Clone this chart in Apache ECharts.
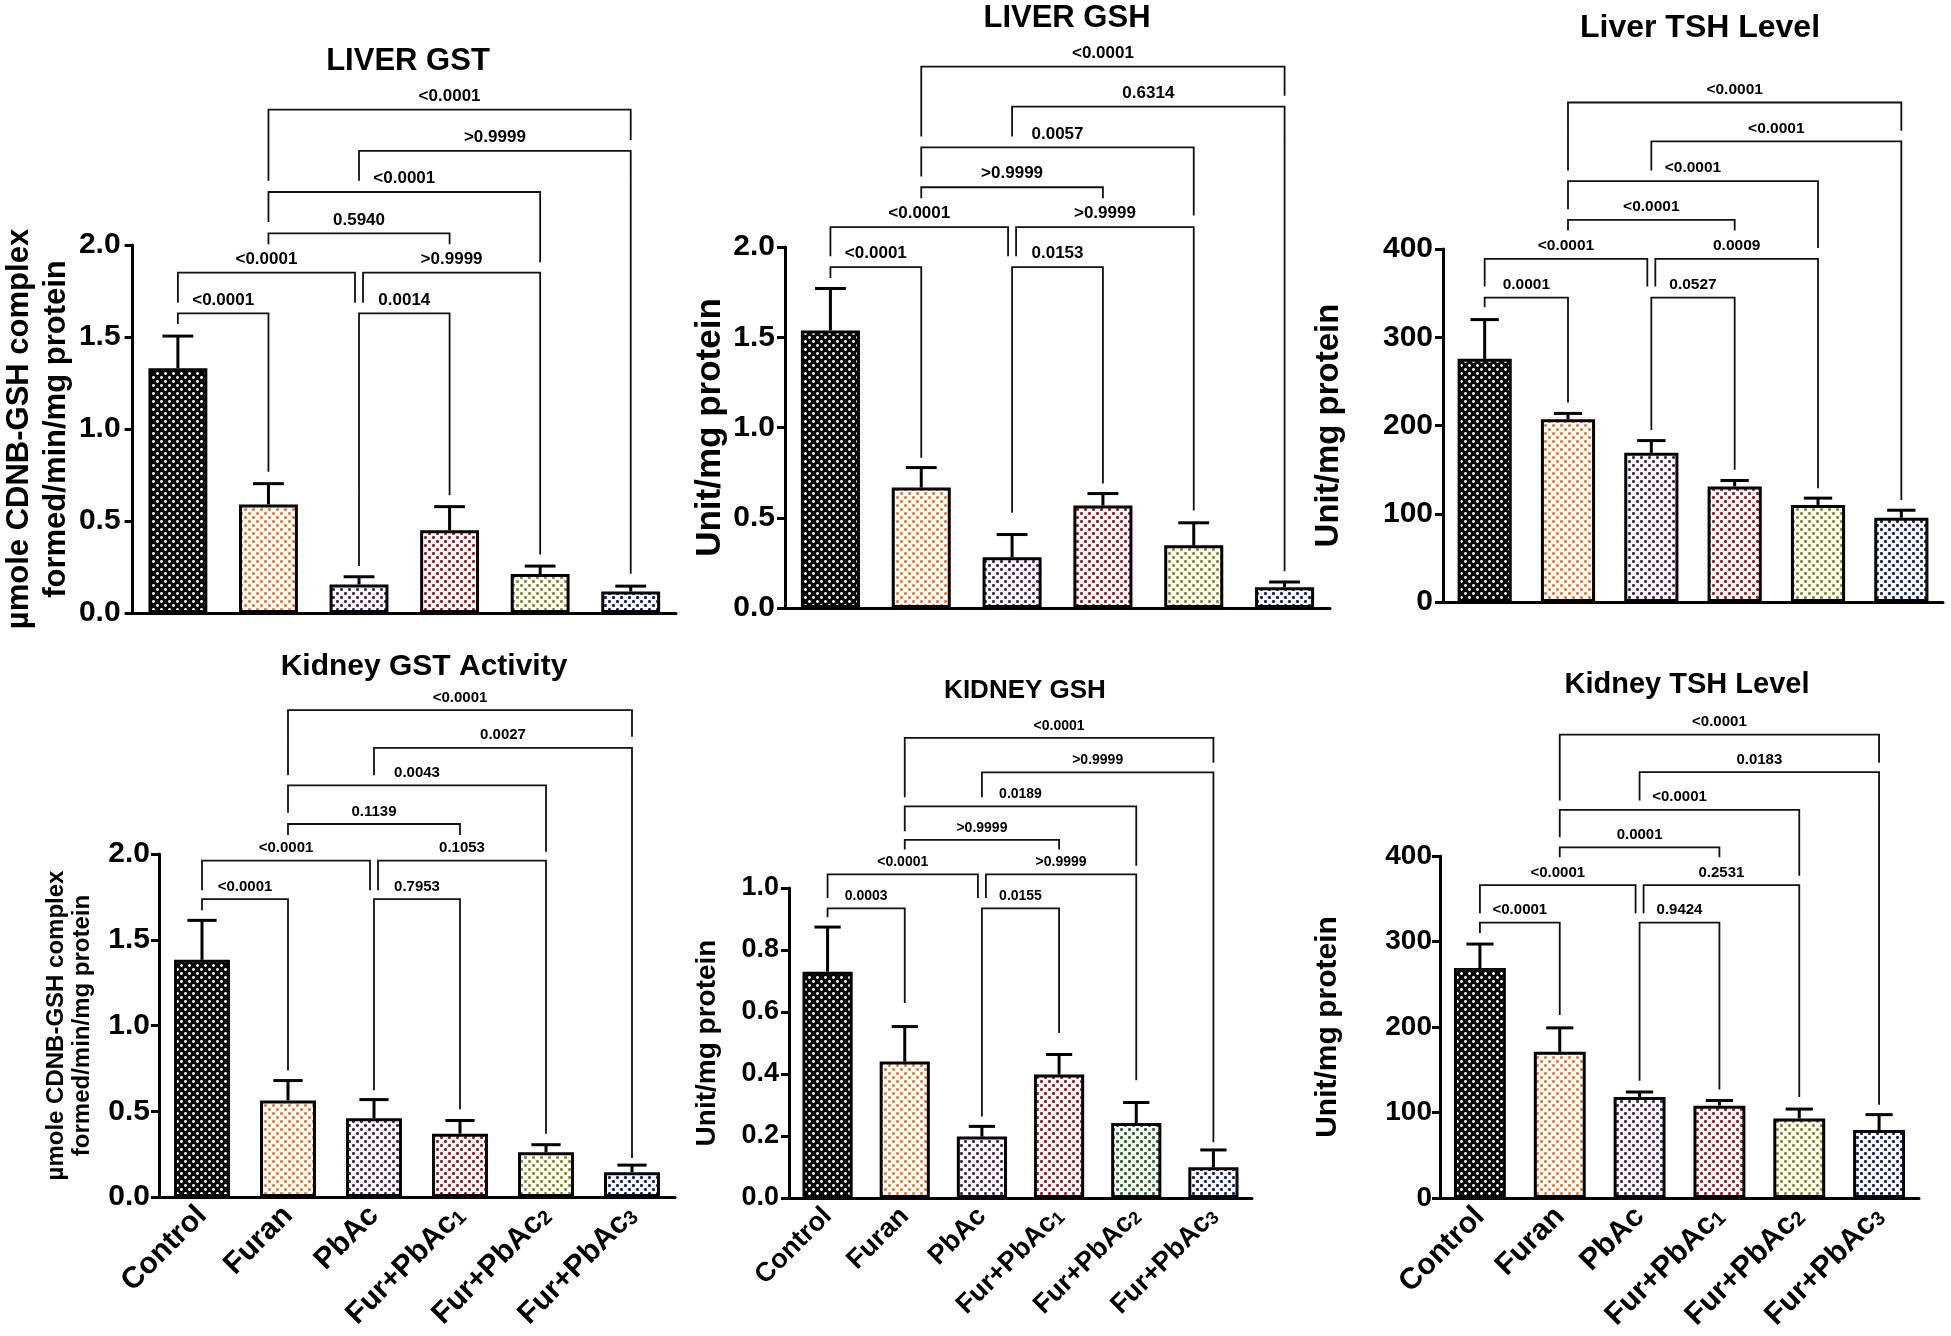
<!DOCTYPE html>
<html><head><meta charset="utf-8">
<script src="https://cdn.jsdelivr.net/npm/echarts@6/dist/echarts.min.js"></script>
<style>html,body{margin:0;padding:0;background:#fff}#c{width:1951px;height:1336px}</style>
</head><body><div id="c"></div>
<script>
const FF = '"Liberation Sans", Arial, Helvetica, sans-serif';
const categories = ['Control', 'Furan', 'PbAc', 'Fur+PbAc1', 'Fur+PbAc2', 'Fur+PbAc3'];

// Bar colours (dot colour of each pattern)
const barColors = ['#000000', '#EC7A2F', '#4B1F6E', '#A0181F', '#8C8C24', '#141E6E'];
const kidneyGshColors = ['#000000', '#EC7A2F', '#4B1F6E', '#A0181F', '#1F6A22', '#141E6E'];

// Tick labels
const gstTicks = [0, 0.5, 1.0, 1.5, 2.0];
const kidneyGshTicks = [0, 0.2, 0.4, 0.6, 0.8, 1.0];
const tshTicks = [0, 100, 200, 300, 400];

// Means and SEM
const liverGstMean = [1.33, 0.59, 0.155, 0.45, 0.212, 0.117];
const liverGstSem  = [0.175, 0.113, 0.042, 0.128, 0.043, 0.029];
const liverGshMean = [1.538, 0.667, 0.281, 0.568, 0.347, 0.115];
const liverGshSem  = [0.232, 0.111, 0.126, 0.066, 0.125, 0.029];
const liverTshMean = [275.5, 207, 169, 131, 110, 95.5];
const liverTshSem  = [44.5, 6.7, 13.9, 6.7, 7.7, 8.5];
const kidneyGstMean = [1.383, 0.563, 0.459, 0.369, 0.261, 0.145];
const kidneyGstSem  = [0.230, 0.116, 0.109, 0.077, 0.044, 0.041];
const kidneyGshMean = [0.730, 0.440, 0.198, 0.398, 0.242, 0.099];
const kidneyGshSem  = [0.144, 0.113, 0.033, 0.065, 0.066, 0.056];
const kidneyTshMean = [269, 171, 118, 108, 93, 79.5];
const kidneyTshSem  = [28, 28, 6, 6, 11, 18];

// Comparison brackets: [from, to, bracket level, left leg end, right leg end, p value]
const liverGstBrackets = [
  [0, 1, 1.628, 1.57, 0.767, '<0.0001'],
  [2, 3, 1.628, 0.255, 0.64, '0.0014'],
  [0, 2, 1.85, 1.686, 1.686, '<0.0001'],
  [2, 4, 1.85, 1.686, 0.318, '>0.9999'],
  [1, 3, 2.063, 2.004, 2.004, '0.5940'],
  [1, 4, 2.288, 2.125, 1.906, '<0.0001'],
  [2, 5, 2.512, 2.349, 0.213, '>0.9999'],
  [1, 5, 2.736, 2.349, 2.569, '<0.0001']
];
const liverGshBrackets = [
  [0, 1, 1.889, 1.828, 0.833, '<0.0001'],
  [2, 3, 1.889, 0.528, 0.69, '0.0153'],
  [0, 2, 2.110, 1.949, 1.949, '<0.0001'],
  [2, 4, 2.110, 1.949, 0.54, '>0.9999'],
  [1, 3, 2.331, 2.27, 2.27, '>0.9999'],
  [1, 4, 2.552, 2.391, 2.175, '0.0057'],
  [2, 5, 2.778, 2.612, 0.203, '0.6314'],
  [1, 5, 2.999, 2.612, 2.838, '<0.0001']
];
const liverTshBrackets = [
  [0, 1, 345, 334, 226, '0.0001'],
  [2, 3, 345, 195, 150, '0.0527'],
  [0, 2, 388.8, 357.4, 357.4, '<0.0001'],
  [2, 4, 388.8, 357.4, 129, '0.0009'],
  [1, 3, 433, 421, 421, '<0.0001'],
  [1, 4, 477, 445, 401, '<0.0001'],
  [2, 5, 522, 489, 115.6, '<0.0001'],
  [1, 5, 566, 489, 534, '<0.0001']
];
const kidneyGstBrackets = [
  [0, 1, 1.737, 1.672, 0.738, '<0.0001'],
  [2, 3, 1.737, 0.622, 0.511, '0.7953'],
  [0, 2, 1.961, 1.788, 1.788, '<0.0001'],
  [2, 4, 1.961, 1.788, 0.369, '0.1053'],
  [1, 3, 2.175, 2.111, 2.111, '0.1139'],
  [1, 4, 2.4, 2.24, 2.013, '0.0043'],
  [2, 5, 2.619, 2.459, 0.227, '0.0027'],
  [1, 5, 2.839, 2.459, 2.684, '<0.0001']
];
const kidneyGshBrackets = [
  [0, 1, 0.934, 0.906, 0.629, '0.0003'],
  [2, 3, 0.934, 0.263, 0.532, '0.0155'],
  [0, 2, 1.044, 0.968, 0.968, '<0.0001'],
  [2, 4, 1.044, 0.968, 0.380, '>0.9999'],
  [1, 3, 1.155, 1.124, 1.124, '>0.9999'],
  [1, 4, 1.263, 1.183, 1.072, '0.0189'],
  [2, 5, 1.373, 1.293, 0.18, '>0.9999'],
  [1, 5, 1.484, 1.293, 1.404, '<0.0001']
];
const kidneyTshBrackets = [
  [0, 1, 322, 310, 214, '<0.0001'],
  [2, 3, 322, 137, 127, '0.9424'],
  [0, 2, 366, 333, 333, '<0.0001'],
  [2, 4, 366, 333, 118, '0.2531'],
  [1, 3, 410, 398.5, 398.5, '0.0001'],
  [1, 4, 454, 422, 377, '<0.0001'],
  [2, 5, 498, 465, 109, '0.0183'],
  [1, 5, 542, 465, 509, '<0.0001']
];

const gstName = 'µmole CDNB-GSH complex\nformed/min/mg protein';
const unitName = 'Unit/mg protein';

const panels = [
  {title: 'LIVER GST', mean: liverGstMean, sem: liverGstSem, br: liverGstBrackets, ticks: gstTicks, dec: 1, name: gstName, colors: barColors,
   grid: {left: 130, top: 245, width: 546, height: 368}, tX: 403, tTop: 41, tSize: 31, tick: 30, tMargin: 12, nFont: 31, nLH: 37, nGap: 56, bFont: 17, xl: false},
  {title: 'LIVER GSH', mean: liverGshMean, sem: liverGshSem, br: liverGshBrackets, ticks: gstTicks, dec: 1, name: unitName, colors: barColors,
   grid: {left: 785, top: 247, width: 545, height: 361}, tX: 1062, tTop: -2, tSize: 31, tick: 30, tMargin: 10, nFont: 35, nLH: 38, nGap: 52, bFont: 17, xl: false},
  {title: 'Liver TSH Level', mean: liverTshMean, sem: liverTshSem, br: liverTshBrackets, ticks: tshTicks, dec: 0, name: unitName, colors: barColors,
   grid: {left: 1443, top: 249, width: 500, height: 353}, tX: 1695, tTop: 7, tSize: 32, tick: 30, tMargin: 10, nFont: 33, nLH: 36, nGap: 96, bFont: 15.5, xl: false},
  {title: 'Kidney GST Activity', mean: kidneyGstMean, sem: kidneyGstSem, br: kidneyGstBrackets, ticks: gstTicks, dec: 1, name: gstName, colors: barColors,
   grid: {left: 159, top: 854, width: 516, height: 343}, tX: 419, tTop: 647, tSize: 30, tick: 30, tMargin: 9, nFont: 24, nLH: 26, nGap: 64, bFont: 15, xl: true, xFont: 30},
  {title: 'KIDNEY GSH', mean: kidneyGshMean, sem: kidneyGshSem, br: kidneyGshBrackets, ticks: kidneyGshTicks, dec: 1, name: unitName, colors: kidneyGshColors,
   grid: {left: 789, top: 888, width: 463, height: 310}, tX: 1020, tTop: 673, tSize: 26, tick: 27, tMargin: 10, nFont: 28, nLH: 30, nGap: 67, bFont: 14, xl: true, xFont: 27},
  {title: 'Kidney TSH Level', mean: kidneyTshMean, sem: kidneyTshSem, br: kidneyTshBrackets, ticks: tshTicks, dec: 0, name: unitName, colors: barColors,
   grid: {left: 1440, top: 856, width: 479, height: 342}, tX: 1682, tTop: 665, tSize: 29, tick: 28, tMargin: 8, nFont: 30, nLH: 33, nGap: 96, bFont: 15, xl: true, xFont: 30}
];

function makePattern(bg, fg, cornerAlpha) {
  const c = document.createElement('canvas');
  c.width = 8; c.height = 8;
  const g = c.getContext('2d');
  g.fillStyle = bg; g.fillRect(0, 0, 8, 8);
  const dot = (x, y) => {
    g.globalAlpha = 1; g.fillStyle = fg;
    g.fillRect(x - 1, y, 3, 1); g.fillRect(x, y - 1, 1, 3);
    g.globalAlpha = cornerAlpha;
    g.fillRect(x - 1, y - 1, 1, 1); g.fillRect(x + 1, y - 1, 1, 1);
    g.fillRect(x - 1, y + 1, 1, 1); g.fillRect(x + 1, y + 1, 1, 1);
    g.globalAlpha = 1;
  };
  dot(1, 1); dot(5, 5);
  return {image: c, repeat: 'repeat'};
}

const chart = echarts.init(document.getElementById('c'), null, {renderer: 'canvas'});
const grids = [], xAxes = [], yAxes = [], titles = [], series = [];

panels.forEach((p, k) => {
  grids.push(Object.assign({containLabel: false}, p.grid));
  titles.push({text: p.title, left: p.tX, top: p.tTop, textAlign: 'center',
    textStyle: {fontSize: p.tSize, fontWeight: 'bold', fontFamily: FF, color: '#000'}});
  const xs = p.xFont || 28;
  xAxes.push({type: 'category', gridIndex: k, data: categories,
    axisLine: {lineStyle: {color: '#000', width: 3}},
    axisTick: {alignWithLabel: true, length: 8, lineStyle: {color: '#000', width: 3}},
    axisLabel: {show: p.xl, rotate: 45, margin: 14, interval: 0,
      formatter: v => { const m = v.match(/^(Fur\+PbAc)(\d)$/); return m ? '{a|' + m[1] + '}{s|' + m[2] + '}' : '{a|' + v + '}'; },
      rich: {a: {fontSize: xs, fontWeight: 'bold', fontFamily: FF, color: '#000'},
             s: {fontSize: Math.round(xs * 0.65), fontWeight: 'bold', fontFamily: FF, color: '#000', verticalAlign: 'bottom'}}},
    splitLine: {show: false}});
  const t = p.ticks;
  yAxes.push({type: 'value', gridIndex: k, min: t[0], max: t[t.length - 1], interval: t[1] - t[0],
    name: p.name, nameLocation: 'middle', nameGap: p.nGap, nameRotate: 90,
    nameTextStyle: {fontSize: p.nFont, fontWeight: 'bold', fontFamily: FF, color: '#000', lineHeight: p.nLH},
    axisLine: {show: true, lineStyle: {color: '#000', width: 3}},
    axisTick: {show: true, length: 8, lineStyle: {color: '#000', width: 3}},
    axisLabel: {fontSize: p.tick, fontWeight: 'bold', fontFamily: FF, color: '#000', margin: p.tMargin,
      formatter: v => v.toFixed(p.dec)},
    splitLine: {show: false}});
  const pats = p.colors.map((c, i) => i === 0 ? makePattern('#000000', '#ffffff', 0.45) : makePattern('#ffffff', c, 0.7));
  series.push({type: 'bar', xAxisIndex: k, yAxisIndex: k, barWidth: '65%', silent: true, z: 2,
    data: p.mean.map((v, i) => ({value: v, itemStyle: {color: pats[i], borderColor: '#000', borderWidth: 3}}))});
  series.push({type: 'custom', xAxisIndex: k, yAxisIndex: k, silent: true, z: 3,
    data: p.mean.map((v, i) => [i, v, v + p.sem[i]]),
    renderItem: (params, api) => {
      const a = api.coord([api.value(0), api.value(1)]);
      const b = api.coord([api.value(0), api.value(2)]);
      const hw = api.size([1, 0])[0] * 0.17;
      return {type: 'group', children: [
        {type: 'line', shape: {x1: a[0], y1: a[1], x2: b[0], y2: b[1]}, style: {stroke: '#000', lineWidth: 3}},
        {type: 'line', shape: {x1: b[0] - hw, y1: b[1], x2: b[0] + hw, y2: b[1]}, style: {stroke: '#000', lineWidth: 3}}
      ]};
    }});
  const br = p.br;
  series.push({type: 'custom', xAxisIndex: k, yAxisIndex: k, silent: true, z: 4, clip: false,
    data: br.map(b => [b[0], b[2]]),
    renderItem: (params, api) => {
      const b = br[params.dataIndex];
      let xl = api.coord([b[0], b[2]])[0];
      let xr = api.coord([b[1], b[2]])[0];
      const yL = api.coord([b[0], b[2]])[1];
      const y1 = api.coord([b[0], b[3]])[1];
      const y2 = api.coord([b[1], b[4]])[1];
      if (br.some(o => o !== b && o[2] === b[2] && o[0] === b[1])) xr -= 4;
      if (br.some(o => o !== b && o[2] === b[2] && o[1] === b[0])) xl += 4;
      return {type: 'group', children: [
        {type: 'polyline', shape: {points: [[xl, y1], [xl, yL], [xr, yL], [xr, y2]]},
         style: {stroke: '#111', lineWidth: 1.8, fill: null}},
        {type: 'text', style: {text: b[5], x: (xl + xr) / 2, y: yL - 5, align: 'center', verticalAlign: 'bottom',
          font: 'bold ' + p.bFont + 'px ' + FF, fill: '#000'}}
      ]};
    }});
});

chart.setOption({animation: false, backgroundColor: '#fff', title: titles, grid: grids, xAxis: xAxes, yAxis: yAxes, series: series});
</script></body></html>
